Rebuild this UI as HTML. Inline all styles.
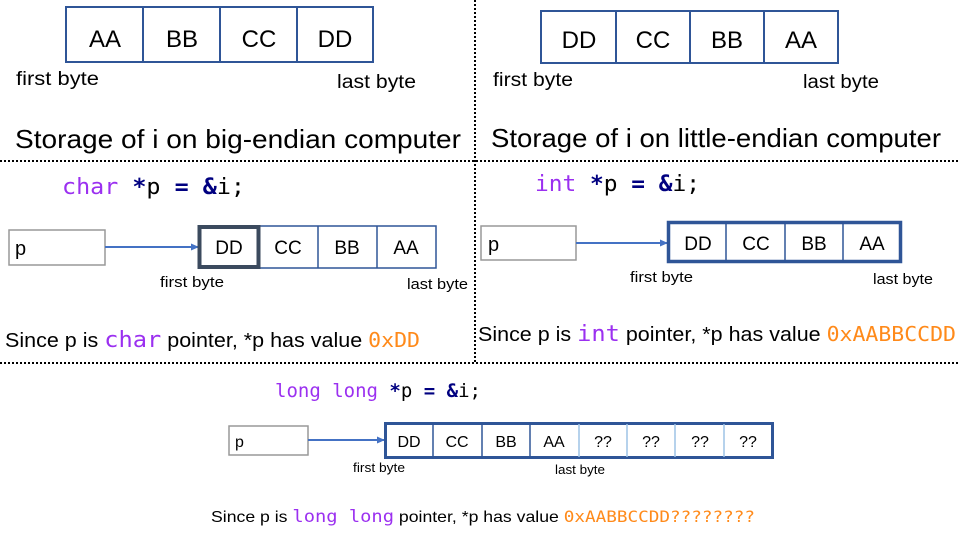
<!DOCTYPE html>
<html><head><meta charset="utf-8"><style>
html,body{margin:0;padding:0;background:#fff}
svg{display:block}
.s{font-family:"Liberation Sans",sans-serif;fill:#000}
.m{font-family:"DejaVu Sans Mono","Liberation Mono",monospace}
.pu{fill:#9b30f0}.nv{fill:#000080}.or{fill:#ff8a1a}
</style></head><body>
<svg width="960" height="536" viewBox="0 0 960 536" xmlns="http://www.w3.org/2000/svg">
<defs><marker id="ah" markerWidth="8" markerHeight="8" refX="7" refY="4" orient="auto" markerUnits="userSpaceOnUse"><path d="M0,0.5 L8,4 L0,7.5 z" fill="#4472c4"/></marker></defs>
<g stroke="#000" stroke-width="2" stroke-dasharray="2 2" fill="none">
<line x1="0" y1="161" x2="960" y2="161"/>
<line x1="0" y1="363" x2="960" y2="363"/>
<line x1="475" y1="0" x2="475" y2="363"/>
</g>
<g fill="none" stroke="#2f5597" stroke-width="2">
<rect x="66" y="7" width="307" height="55"/>
<line x1="143" y1="7" x2="143" y2="62"/><line x1="220" y1="7" x2="220" y2="62"/><line x1="297" y1="7" x2="297" y2="62"/>
<rect x="541" y="11" width="297" height="52"/>
<line x1="616" y1="11" x2="616" y2="63"/><line x1="690" y1="11" x2="690" y2="63"/><line x1="764" y1="11" x2="764" y2="63"/>
</g>
<g class="s" font-size="24" text-anchor="middle">
<text x="105" y="47">AA</text><text x="182" y="47">BB</text><text x="259" y="47">CC</text><text x="335" y="47">DD</text>
<text x="579" y="48">DD</text><text x="653" y="48">CC</text><text x="727" y="48">BB</text><text x="801" y="48">AA</text>
</g>
<g class="s" font-size="19">
<text x="16" y="85" textLength="83" lengthAdjust="spacingAndGlyphs">first byte</text>
<text x="337" y="88" textLength="79" lengthAdjust="spacingAndGlyphs">last byte</text>
<text x="493" y="86" textLength="80" lengthAdjust="spacingAndGlyphs">first byte</text>
<text x="803" y="88" textLength="76" lengthAdjust="spacingAndGlyphs">last byte</text>
</g>
<g class="s" font-size="26">
<text x="15" y="148" textLength="446" lengthAdjust="spacingAndGlyphs">Storage of i on big-endian computer</text>
<text x="491" y="147" textLength="450" lengthAdjust="spacingAndGlyphs">Storage of i on little-endian computer</text>
</g>
<text class="m" x="62" y="194" font-size="22" textLength="183" lengthAdjust="spacingAndGlyphs"><tspan class="pu">char</tspan> <tspan class="nv" font-weight="bold">*</tspan>p <tspan class="nv" font-weight="bold">=</tspan> <tspan class="nv" font-weight="bold">&amp;</tspan>i;</text>
<rect x="9" y="230" width="96" height="35" fill="#fff" stroke="#999" stroke-width="1.5"/>
<line x1="105" y1="247" x2="198" y2="247" stroke="#4472c4" stroke-width="2" marker-end="url(#ah)"/>
<g fill="none" stroke="#2f5597" stroke-width="1.5">
<rect x="259" y="226" width="177" height="42"/>
<line x1="318" y1="226" x2="318" y2="268"/><line x1="377" y1="226" x2="377" y2="268"/>
</g>
<rect x="199.5" y="227" width="59" height="40" fill="none" stroke="#3b4a5e" stroke-width="4"/>
<g class="s" font-size="19" text-anchor="middle">
<text x="229" y="254">DD</text><text x="288" y="254">CC</text><text x="347" y="254">BB</text><text x="406" y="254">AA</text>
</g>
<text class="s" x="15" y="255" font-size="20">p</text>
<g class="s" font-size="15">
<text x="160" y="287" textLength="64" lengthAdjust="spacingAndGlyphs">first byte</text>
<text x="407" y="289" textLength="61" lengthAdjust="spacingAndGlyphs">last byte</text>
</g>
<text class="s" x="5" y="347" font-size="20" textLength="415" lengthAdjust="spacingAndGlyphs">Since p is <tspan class="m pu" font-size="22">char</tspan> pointer, *p has value <tspan class="m or" font-size="20">0xDD</tspan></text>
<text class="m" x="535" y="191" font-size="22" textLength="165" lengthAdjust="spacingAndGlyphs"><tspan class="pu">int</tspan> <tspan class="nv" font-weight="bold">*</tspan>p <tspan class="nv" font-weight="bold">=</tspan> <tspan class="nv" font-weight="bold">&amp;</tspan>i;</text>
<rect x="481" y="226" width="95" height="34" fill="#fff" stroke="#999" stroke-width="1.5"/>
<line x1="576" y1="243" x2="667" y2="243" stroke="#4472c4" stroke-width="2" marker-end="url(#ah)"/>
<g fill="none" stroke="#2f5597">
<rect x="668.5" y="222.5" width="232" height="39" stroke-width="3.5"/>
<g stroke-width="1.5"><line x1="726" y1="222" x2="726" y2="262"/><line x1="785" y1="222" x2="785" y2="262"/><line x1="843" y1="222" x2="843" y2="262"/></g>
</g>
<g class="s" font-size="19" text-anchor="middle">
<text x="698" y="250">DD</text><text x="756" y="250">CC</text><text x="814" y="250">BB</text><text x="872" y="250">AA</text>
</g>
<text class="s" x="488" y="251" font-size="20">p</text>
<g class="s" font-size="15">
<text x="630" y="282" textLength="63" lengthAdjust="spacingAndGlyphs">first byte</text>
<text x="873" y="284" textLength="60" lengthAdjust="spacingAndGlyphs">last byte</text>
</g>
<text class="s" x="478" y="341" font-size="20" textLength="478" lengthAdjust="spacingAndGlyphs">Since p is <tspan class="m pu" font-size="22">int</tspan> pointer, *p has value <tspan class="m or" font-size="20">0xAABBCCDD</tspan></text>
<text class="m" x="275" y="397" font-size="19" textLength="206" lengthAdjust="spacingAndGlyphs"><tspan class="pu">long long</tspan> <tspan class="nv" font-weight="bold">*</tspan>p <tspan class="nv" font-weight="bold">=</tspan> <tspan class="nv" font-weight="bold">&amp;</tspan>i;</text>
<rect x="229" y="426" width="79" height="29" fill="#fff" stroke="#999" stroke-width="1.5"/>
<line x1="308" y1="440" x2="384" y2="440" stroke="#4472c4" stroke-width="2" marker-end="url(#ah)"/>
<g fill="none" stroke="#2f5597">
<rect x="385.5" y="423.5" width="387" height="34" stroke-width="3"/>
<g stroke-width="1.5"><line x1="433" y1="423" x2="433" y2="458"/><line x1="482" y1="423" x2="482" y2="458"/><line x1="530" y1="423" x2="530" y2="458"/></g>
<g stroke-width="1.5" stroke="#9dc3e6"><line x1="579" y1="424" x2="579" y2="457"/><line x1="627" y1="424" x2="627" y2="457"/><line x1="675" y1="424" x2="675" y2="457"/><line x1="724" y1="424" x2="724" y2="457"/></g>
</g>
<g class="s" font-size="16" text-anchor="middle">
<text x="409" y="447">DD</text><text x="457" y="447">CC</text><text x="506" y="447">BB</text><text x="554" y="447">AA</text>
<text x="603" y="447">??</text><text x="651" y="447">??</text><text x="700" y="447">??</text><text x="748" y="447">??</text>
</g>
<text class="s" x="235" y="447" font-size="16">p</text>
<g class="s" font-size="13">
<text x="353" y="472" textLength="52" lengthAdjust="spacingAndGlyphs">first byte</text>
<text x="555" y="474" textLength="50" lengthAdjust="spacingAndGlyphs">last byte</text>
</g>
<text class="s" x="211" y="522" font-size="16" textLength="544" lengthAdjust="spacingAndGlyphs">Since p is <tspan class="m pu" font-size="17">long  long</tspan> pointer, *p has value <tspan class="m or" font-size="16">0xAABBCCDD????????</tspan></text>
</svg>
</body></html>
